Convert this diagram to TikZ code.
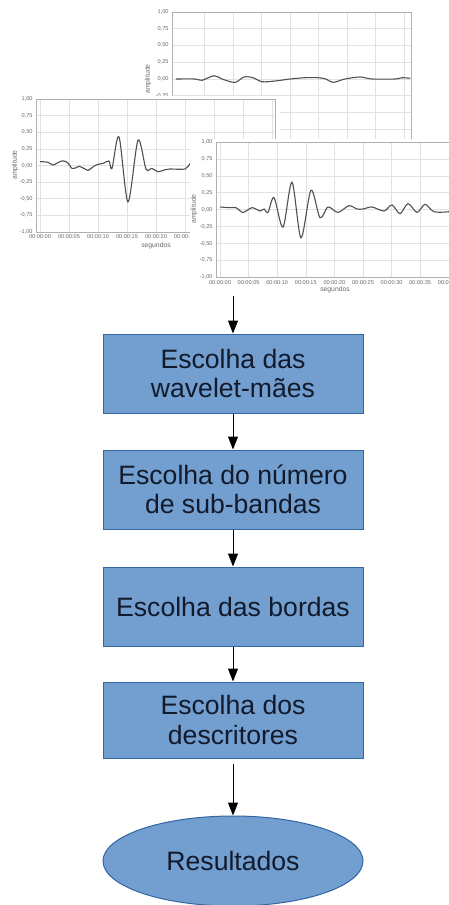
\documentclass[tikz,border=0pt]{standalone}
\usepackage{fontspec}
\setmainfont{Liberation Sans}
\usetikzlibrary{shapes.geometric,arrows.meta}

\definecolor{azul}{HTML}{729FCF}
\definecolor{borda}{HTML}{3465A4}
\definecolor{texto}{HTML}{121A2C}
\definecolor{grade}{HTML}{E2E2E2}
\definecolor{moldura}{HTML}{B0B0B0}
\definecolor{rotulo}{HTML}{6A6A6A}
\definecolor{sinal}{HTML}{505050}

\begin{document}
\begin{tikzpicture}[x=0.5pt, y=-0.5pt,
    etapa/.style={draw=borda, line width=0.5pt, fill=azul, text=texto, minimum width=130pt, minimum height=39.5pt, align=center, inner sep=2pt, font=\fontsize{13.3}{14.7}\selectfont},
    fim/.style={ellipse, draw=borda, line width=0.5pt, fill=azul, text=texto, minimum width=130pt, minimum height=45pt, inner sep=0pt, font=\fontsize{13.3}{14.7}\selectfont},
    seta/.style={-{Triangle[width=5pt,length=6.5pt]}, line width=0.5pt},
    linhagrade/.style={grade, line width=0.3pt},
    eixo/.style={moldura, line width=0.4pt},
    curva/.style={sinal, line width=0.55pt},
    marca/.style={rotulo, inner sep=0pt, font=\fontsize{2.8}{3}\selectfont},
    titulo/.style={rotulo, inner sep=0pt, font=\fontsize{3.4}{4}\selectfont}]
    \useasboundingbox (0,0) rectangle (449,905);

    \begin{scope}
        \clip (0,0) rectangle (449,905);
        % Sinal 1 (fundo)
        \fill[white] (140,0) rectangle (420,150);
        \foreach \k in {1,...,8}
            \draw[linhagrade] ({176+28.5*\k},12) -- ({176+28.5*\k},146);
        \foreach \l [count=\i from 0] in {{1,00},{0,75},{0,50},{0,25},{0,00},{-0,25},{-0,50},{-0,75},{-1,00}} {
            \draw[linhagrade] (172,{12+16.7*\i}) -- (411,{12+16.7*\i});
            \node[marca, anchor=east] at (169,{12+16.7*\i}) {\l};
        }
        \draw[eixo] (172,12) rectangle (411,146);
        \node[titulo, rotate=90] at (148,79) {amplitude};
        \draw[curva] plot[smooth] coordinates {(176,79) (195,79) (202,80.3) (214,75.7) (222,79) (235,82.4) (244,77) (253,77.7) (262,81.7) (275,81) (290,79) (305,77.7) (318,77.7) (326,79) (333,82.4) (345,79) (360,77) (372,79) (395,79) (402,77.7) (410,78.3)};

        % Sinal 2 (esquerda)
        \fill[white] (0,96) rectangle (280,252);
        \foreach \k in {0,...,8}
            \draw[linhagrade] ({40+29*\k},99) -- ({40+29*\k},232);
        \foreach \l [count=\i from 0] in {{1,00},{0,75},{0,50},{0,25},{0,00},{-0,25},{-0,50},{-0,75},{-1,00}} {
            \draw[linhagrade] (36,{99+16.6*\i}) -- (275,{99+16.6*\i});
            \node[marca, anchor=east] at (33,{99+16.6*\i}) {\l};
        }
        \draw[eixo] (36,99) rectangle (275,232);
        \foreach \k in {0,...,5} {
            \pgfmathtruncatemacro\s{5*\k}
            \node[marca] at ({40+29*\k},237) {00:00:\ifnum\s<10 0\fi\s};
        }
        \node[titulo] at (156,246) {segundos};
        \node[titulo, rotate=90] at (15,165) {amplitude};
        \draw[curva] plot[smooth] coordinates {(40,161.6) (48,162.3) (53,165) (60,161.6) (64,161) (68,163) (72,168.4) (76,167.7) (79,166.3) (84,168.4) (88,170.4) (92,167.7) (96,165) (104,163) (109,161) (112,168.4) (119,136.9) (128,201.9) (138,140.2) (146,169) (152,168.4) (158,171.7) (165,169.7) (170,169) (185,169) (190,163.7) (196,160)};

        % Sinal 3 (frente)
        \fill[white] (190,139) rectangle (470,297);
        \foreach \k in {0,...,9}
            \draw[linhagrade] ({220+28.6*\k},142) -- ({220+28.6*\k},277);
        \foreach \l [count=\i from 0] in {{1,00},{0,75},{0,50},{0,25},{0,00},{-0,25},{-0,50},{-0,75},{-1,00}} {
            \draw[linhagrade] (216,{142+16.9*\i}) -- (470,{142+16.9*\i});
            \node[marca, anchor=east] at (213,{142+16.9*\i}) {\l};
        }
        \draw[eixo] (216,142) rectangle (470,277);
        \foreach \k in {0,...,8} {
            \pgfmathtruncatemacro\s{5*\k}
            \node[marca] at ({220+28.6*\k},283) {00:00:\ifnum\s<10 0\fi\s};
        }
        \node[titulo] at (335,290) {segundos};
        \node[titulo, rotate=90] at (194,209) {amplitude};
        \draw[curva] plot[smooth] coordinates {(220,207) (230,207.7) (236,207.7) (243,212.4) (252,207.7) (260,211) (264,209) (268,212.4) (274,197.6) (283,227.1) (292,182.2) (301,237.8) (311,190.2) (320,217.7) (328,207) (338,212.4) (349,205.7) (357,209) (363,209) (372,207) (384,211) (392,205) (400,213.7) (408,203.6) (417,212.4) (425,204.3) (434,211.7) (449,211.7) (460,209)};
    \end{scope}

    % Etapas
    \coordinate (sinais) at (233,296);
    \node[etapa] (maes) at (233,373.5) {Escolha das\\wavelet-mães};
    \node[etapa] (bandas) at (233,489.5) {Escolha do número\\de sub-bandas};
    \node[etapa] (bordas) at (233,606.5) {Escolha das bordas};
    \node[etapa, minimum height=38pt] (descr) at (233,720) {Escolha dos\\descritores};
    \node[fim] (result) at (233,861) {Resultados};

    % Setas
    \draw[seta] (sinais) -- (maes);
    \draw[seta] (maes) -- (bandas);
    \draw[seta] (bandas) -- (bordas);
    \draw[seta] (bordas) -- (descr);
    \draw[seta, shorten <=2.5pt] (descr) -- (result);
\end{tikzpicture}
\end{document}
